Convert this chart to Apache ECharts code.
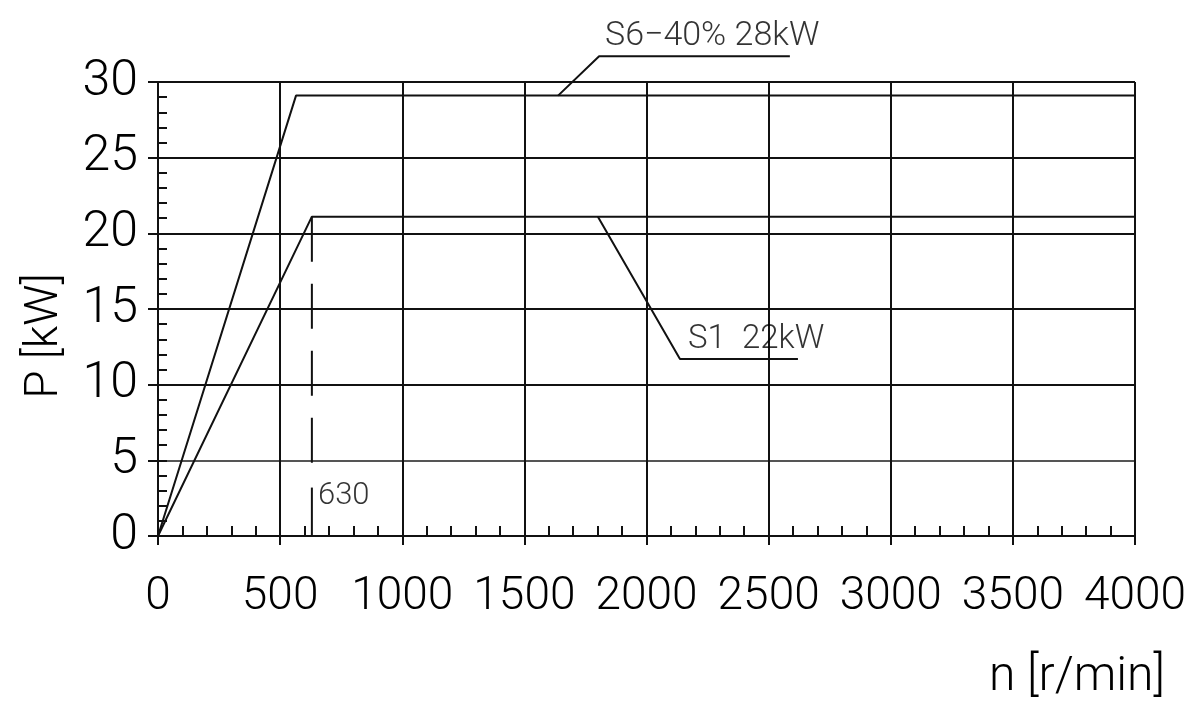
<!DOCTYPE html>
<html>
<head>
<meta charset="utf-8">
<script src="https://cdn.jsdelivr.net/npm/echarts@6/dist/echarts.min.js"></script>
<style>
html,body{margin:0;padding:0;background:#fff;}
#c{width:1200px;height:719px;}
</style>
</head>
<body>
<div id="c"></div>
<script>
// ---- data ----
const xTicks = [0, 500, 1000, 1500, 2000, 2500, 3000, 3500, 4000];
const yTicks = [0, 5, 10, 15, 20, 25, 30];
const s6Curve = [[0, 0], [565, 29.1], [4000, 29.1]];
const s1Curve = [[0, 0], [630, 21.1], [4000, 21.1]];
const cornerDashed = [[630, 21.1], [630, 4.6]];
const cornerSolid = [[630, 3.2], [630, 0]];
const s6Leader = [[1638, 29.1], [1806, 31.7], [2587, 31.7]];
const s1Leader = [[1801, 21.1], [2137, 11.7], [2620, 11.7]];
const annotations = [
  { text: 'S6\u221240% 28kW', at: [1830, 33.0], size: 34 },
  { text: 'S1  22kW', at: [2170, 12.95], size: 33 },
  { text: '630', at: [655, 2.6], size: 31 }
];
const xName = 'n [r/min]';
const yName = 'P [kW]';

const FONT = "Roboto, 'Liberation Sans', sans-serif";
const INK = '#000';

const chart = echarts.init(document.getElementById('c'), null, { renderer: 'canvas' });

function lineSeries(data, dashed) {
  return {
    type: 'line', data: data, xAxisIndex: 0, yAxisIndex: 0,
    showSymbol: false, symbol: 'none', clip: false, animation: false,
    lineStyle: { color: '#111', width: 2, type: dashed ? [45, 22] : 'solid' },
    z: 5
  };
}

const option = {
  backgroundColor: '#fff',
  animation: false,
  grid: { left: 158, right: 65, top: 82, bottom: 183, containLabel: false, outerBoundsMode: 'none' },
  xAxis: [
    {
      type: 'value', min: xTicks[0], max: xTicks[xTicks.length - 1], interval: 500,
      position: 'bottom',
      axisLine: { show: true, lineStyle: { color: '#111', width: 2 } },
      axisTick: { show: true, inside: false, length: 9, lineStyle: { color: '#111', width: 2 } },
      splitLine: { show: true, lineStyle: { color: '#111', width: 2 } },
      axisLabel: {
        show: true, margin: 38, fontFamily: FONT, fontWeight: 300, fontSize: 46, color: INK,
        showMinLabel: true, showMaxLabel: true, hideOverlap: false,
        formatter: v => String(v)
      },
      name: xName, nameLocation: 'end', nameGap: 30,
      nameTextStyle: { fontFamily: FONT, fontWeight: 300, fontSize: 48, color: INK, align: 'right', verticalAlign: 'top', padding: [118, 0, 0, 0] }
    },
    {
      type: 'value', min: 0, max: 4000, interval: 100, position: 'bottom',
      axisLine: { show: false },
      axisTick: { show: true, inside: true, length: 10, lineStyle: { color: '#111', width: 2 } },
      splitLine: { show: false },
      axisLabel: { show: false }
    }
  ],
  yAxis: [
    {
      type: 'value', min: yTicks[0], max: yTicks[yTicks.length - 1], interval: 5,
      position: 'left',
      axisLine: { show: true, lineStyle: { color: '#111', width: 2 } },
      axisTick: { show: true, inside: false, length: 10, lineStyle: { color: '#111', width: 2 } },
      splitLine: { show: true, lineStyle: { color: ['#111', '#555', '#111', '#111', '#111', '#111', '#111'], width: 2 } },
      axisLabel: {
        show: true, margin: 20, fontFamily: FONT, fontWeight: 300, fontSize: 50, color: INK,
        showMinLabel: true, showMaxLabel: true
      },
      name: yName, nameLocation: 'middle', nameGap: 90, nameRotate: 90,
      nameTextStyle: { fontFamily: FONT, fontWeight: 300, fontSize: 46, color: INK, padding: [0, 54, 0, 0] }
    },
    {
      type: 'value', min: 0, max: 30, interval: 1, position: 'left',
      axisLine: { show: false },
      axisTick: { show: true, inside: true, length: 9, lineStyle: { color: '#111', width: 2 } },
      splitLine: { show: false },
      axisLabel: { show: false }
    }
  ],
  series: [
    lineSeries(s6Curve, false),
    lineSeries(s1Curve, false),
    lineSeries(cornerDashed, true),
    lineSeries(cornerSolid, false),
    lineSeries(s6Leader, false),
    lineSeries(s1Leader, false),
    {
      type: 'scatter', xAxisIndex: 0, yAxisIndex: 0, clip: false, symbolSize: 0, z: 6,
      data: annotations.map(a => ({
        value: a.at,
        label: {
          show: true, position: 'right', distance: 0, formatter: a.text,
          fontFamily: FONT, fontWeight: 300, fontSize: a.size, color: INK
        }
      }))
    }
  ]
};
chart.setOption(option);
</script>
</body>
</html>
